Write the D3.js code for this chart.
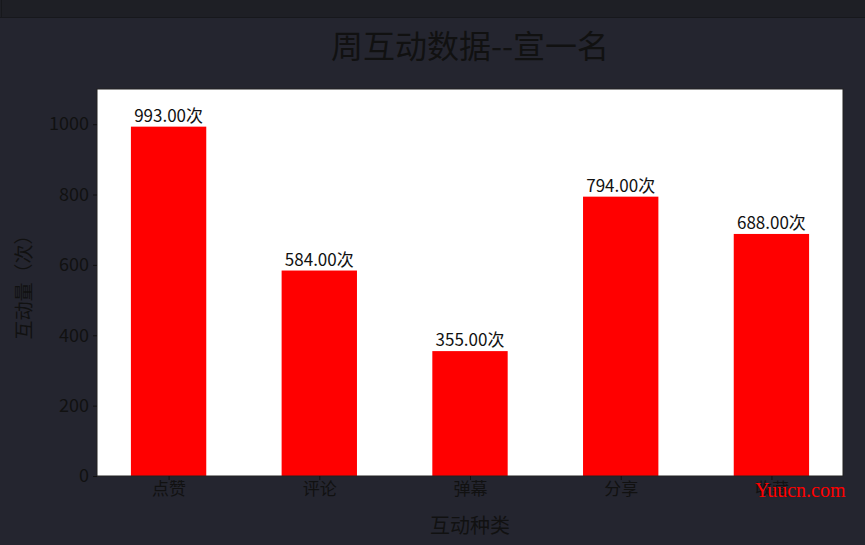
<!DOCTYPE html>
<html><head><meta charset="utf-8">
<script src="https://cdn.jsdelivr.net/npm/d3@7"></script>
<style>body{margin:0;background:#24252f;}svg{display:block;}</style>
</head><body>
<script>
const categories = ["点赞", "评论", "弹幕", "分享", "收藏"];
const values = [993, 584, 355, 794, 688];
const yTicks = [0, 200, 400, 600, 800, 1000];
const title = "周互动数据--宣一名";
const xLabel = "互动种类";
const yLabel = "互动量（次）";

const W = 865, H = 545;
const m = {left: 97, right: 843, top: 89, bottom: 476};
const font = "'Noto Sans CJK SC', 'Noto Sans', sans-serif";
const svg = d3.select("body").append("svg").attr("width", W).attr("height", H);

svg.append("rect").attr("width", W).attr("height", H).attr("fill", "#24252f");
svg.append("rect").attr("x", 0).attr("y", 0).attr("width", W).attr("height", 17).attr("fill", "#1e1f25");
svg.append("line").attr("x1", 0).attr("x2", W).attr("y1", 17.5).attr("y2", 17.5).attr("stroke", "#17181c");
svg.append("line").attr("x1", 1.5).attr("x2", 1.5).attr("y1", 0).attr("y2", 17).attr("stroke", "#17181c");

const x = d3.scaleLinear().domain([-0.475, categories.length - 1 + 0.475]).range([m.left, m.right]);
const y = d3.scaleLinear().domain([0, 1100]).range([m.bottom, m.top]);
const bw = x(0.5) - x(0);

svg.append("rect").attr("x", m.left).attr("y", m.top).attr("width", m.right - m.left).attr("height", m.bottom - m.top).attr("fill", "#ffffff");

svg.selectAll("rect.bar").data(values).join("rect").attr("class", "bar")
  .attr("x", (d, i) => x(i) - bw / 2).attr("width", bw)
  .attr("y", d => y(d)).attr("height", d => y(0) - y(d))
  .attr("fill", "#ff0000");

svg.selectAll("text.val").data(values).join("text").attr("class", "val")
  .attr("x", (d, i) => x(i)).attr("y", d => y(d) - 5)
  .attr("text-anchor", "middle").attr("font-family", font).attr("font-size", 17)
  .attr("fill", "#111").text(d => d.toFixed(2) + "次");

svg.append("rect").attr("x", m.left).attr("y", m.top).attr("width", m.right - m.left).attr("height", m.bottom - m.top)
  .attr("fill", "none").attr("stroke", "#222").attr("stroke-width", 1);

const yAxis = svg.append("g").attr("transform", `translate(${m.left},0)`)
  .call(d3.axisLeft(y).tickValues(yTicks).tickFormat(d3.format("d")).tickSize(4).tickPadding(4));
yAxis.select(".domain").remove();
yAxis.selectAll("line").attr("stroke", "#111");
yAxis.selectAll("text").attr("font-family", font).attr("font-size", 18).attr("fill", "#111");

const xAxis = svg.append("g").attr("transform", `translate(0,${m.bottom})`)
  .call(d3.axisBottom(x).tickValues(d3.range(categories.length)).tickFormat(i => categories[i]).tickSize(4).tickPadding(3));
xAxis.select(".domain").remove();
xAxis.selectAll("line").attr("stroke", "#111");
xAxis.selectAll("text").attr("font-family", font).attr("font-size", 17).attr("fill", "#111");

svg.append("text").attr("x", (m.left + m.right) / 2).attr("y", 58).attr("text-anchor", "middle")
  .attr("font-family", font).attr("font-size", 32).attr("fill", "#111").text(title);
svg.append("text").attr("x", (m.left + m.right) / 2).attr("y", 533).attr("text-anchor", "middle")
  .attr("font-family", font).attr("font-size", 20).attr("fill", "#111").text(xLabel);
svg.append("text").attr("transform", `translate(31,${(m.top + m.bottom) / 2}) rotate(-90)`).attr("text-anchor", "middle")
  .attr("font-family", font).attr("font-size", 19).attr("fill", "#111").text(yLabel);

svg.append("text").attr("x", 755).attr("y", 497).attr("font-family", "'Liberation Serif', serif")
  .attr("font-size", 20).attr("fill", "#ff0000").text("Yuucn.com");
</script>
</body></html>
